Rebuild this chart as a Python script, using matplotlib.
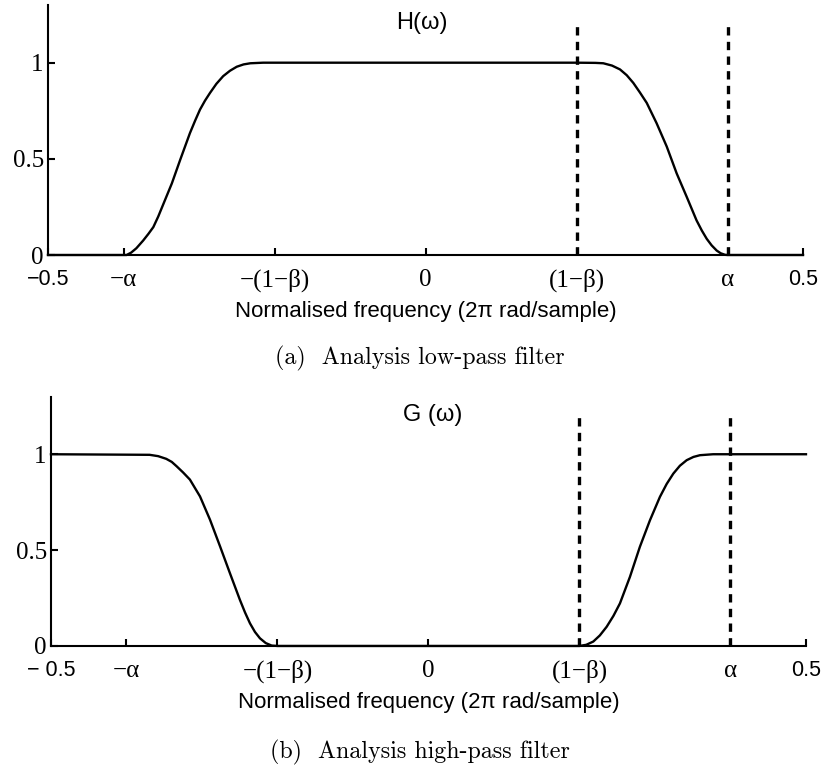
import matplotlib
matplotlib.use("Agg")
import matplotlib.pyplot as plt

# values
tick_pos = [-0.5, -0.4, -0.2, 0, 0.2, 0.4, 0.5]
top_labels = ["\u22120.5", "\u2212\u03b1", "\u2212(1\u2212\u03b2)", "0", "(1\u2212\u03b2)", "\u03b1", "0.5"]
bot_labels = ["\u2212 0.5", "\u2212\u03b1", "\u2212(1\u2212\u03b2)", "0", "(1\u2212\u03b2)", "\u03b1", "0.5"]
sans_idx = [0, 6]

# low-pass H(w)
h_freq = [-0.5, -0.400, -0.396, -0.390, -0.383, -0.374, -0.367, -0.3605, -0.354, -0.347,
          -0.336, -0.325, -0.312, -0.305, -0.2987, -0.292, -0.2854, -0.277, -0.268, -0.259,
          -0.250, -0.241, -0.232, -0.215,
          0.200, 0.225, 0.2355, 0.247, 0.2576, 0.2665, 0.2752, 0.284, 0.293, 0.306,
          0.3195, 0.3327, 0.346, 0.359, 0.366, 0.3725, 0.379, 0.3857, 0.391, 0.3967,
          0.400, 0.5]
h_gain = [0, 0, 0.000, 0.012, 0.035, 0.075, 0.110, 0.145, 0.200, 0.267,
          0.372, 0.494, 0.634, 0.700, 0.756, 0.803, 0.843, 0.890, 0.930, 0.958,
          0.979, 0.991, 0.997, 1.0,
          1.0, 0.999, 0.997, 0.985, 0.965, 0.935, 0.895, 0.845, 0.791, 0.686,
          0.564, 0.424, 0.302, 0.180, 0.127, 0.084, 0.050, 0.023, 0.009, 0.001,
          0, 0]

# high-pass G(w)
g_freq = [-0.5, -0.3693, -0.358, -0.3473, -0.340, -0.3335, -0.325, -0.316, -0.3026, -0.2894,
          -0.276, -0.263, -0.2497, -0.243, -0.2364, -0.2298, -0.2232, -0.2155, -0.2077, -0.2,
          0.2, 0.209, 0.2183, 0.227, 0.236, 0.245, 0.2536, 0.2669, 0.280, 0.2934,
          0.3066, 0.3155, 0.3243, 0.333, 0.342, 0.351, 0.3596, 0.377, 0.5]
g_gain = [1, 0.997, 0.990, 0.976, 0.960, 0.937, 0.905, 0.868, 0.780, 0.659,
          0.519, 0.380, 0.240, 0.175, 0.118, 0.073, 0.040, 0.015, 0.002, 0,
          0, 0.006, 0.023, 0.055, 0.10, 0.157, 0.222, 0.361, 0.517, 0.656,
          0.778, 0.845, 0.899, 0.940, 0.969, 0.986, 0.995, 1.0, 1.0]

band_edges = [0.2, 0.4]
edge_height = 1.2

SERIF = "Liberation Serif"
SANS = "Liberation Sans"

fig = plt.figure(figsize=(8.22, 7.69), dpi=100)
ax_h = fig.add_axes([0.0584, 0.6684, 0.9185, 0.3251])
ax_g = fig.add_axes([0.0620, 0.1600, 0.9185, 0.3241])


def setup(ax, freq, gain, labels, title, title_x):
    ax.plot(freq, gain, color="black", lw=1.7, clip_on=False, zorder=3,
            solid_joinstyle="round")
    for e in band_edges:
        ax.plot([e, e], [0, edge_height], color="black", lw=2.4,
                dashes=(2.5, 1.9), zorder=4)
    ax.set_xlim(-0.5, 0.5)
    ax.set_ylim(0, 1.3)
    for s in ["top", "right"]:
        ax.spines[s].set_visible(False)
    for s in ["left", "bottom"]:
        ax.spines[s].set_linewidth(1.5)
    ax.set_xticks(tick_pos)
    ax.set_xticklabels(labels)
    ax.set_yticks([0, 0.5, 1])
    ax.set_yticklabels(["0", "0.5", "1"])
    ax.tick_params(direction="in", length=5, width=1.5)
    ax.tick_params(axis="x", pad=10)
    ax.tick_params(axis="y", pad=3)
    for i, lab in enumerate(ax.get_xticklabels()):
        if i in sans_idx:
            lab.set_fontfamily(SANS)
            lab.set_fontsize(15.5)
        else:
            lab.set_fontfamily(SERIF)
            lab.set_fontsize(18)
    for lab in ax.get_yticklabels():
        lab.set_fontfamily(SERIF)
        lab.set_fontsize(18)
    ax.set_xlabel("Normalised frequency (2\u03c0 rad/sample)", fontfamily=SANS,
                  fontsize=16, labelpad=6)
    ax.text(title_x, 1.205, title, ha="center", va="center", fontfamily=SANS, fontsize=17)


setup(ax_h, h_freq, h_gain, top_labels, "H(\u03c9)", -0.005)
setup(ax_g, g_freq, g_gain, bot_labels, "G (\u03c9)", 0.005)

fig.text(0.511, 1 - 358 / 769, "(a)  Analysis low-pass filter", ha="center", va="center",
         fontfamily="cmr10", fontsize=17.3)
fig.text(0.511, 1 - 752 / 769, "(b)  Analysis high-pass filter", ha="center", va="center",
         fontfamily="cmr10", fontsize=17.3)

fig.savefig("out.png", dpi=100)
